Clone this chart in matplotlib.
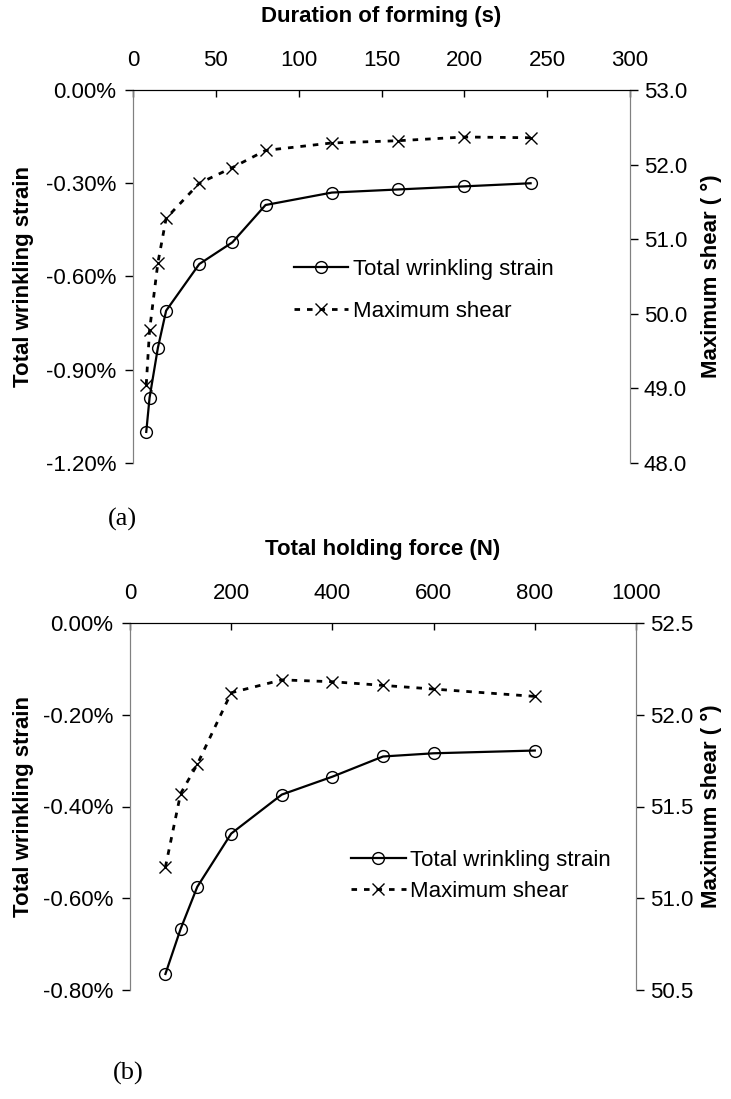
import matplotlib
matplotlib.use("Agg")
from matplotlib import pyplot as plt
from matplotlib.ticker import FuncFormatter

# panel (a): duration of forming
dur_s = [8, 10, 15, 20, 40, 60, 80, 120, 160, 200, 240]
strain_a = [-1.10, -0.99, -0.83, -0.71, -0.56, -0.49, -0.37, -0.33, -0.32, -0.31, -0.30]
shear_a = [49.05, 49.78, 50.68, 51.28, 51.75, 51.96, 52.19, 52.29, 52.32, 52.37, 52.36]

# panel (b): total holding force
force_n = [70, 100, 133, 200, 300, 400, 500, 600, 800]
strain_b = [-0.765, -0.667, -0.575, -0.459, -0.374, -0.335, -0.291, -0.284, -0.278]
shear_b = [51.17, 51.57, 51.73, 52.12, 52.19, 52.18, 52.16, 52.14, 52.10]

plt.rcParams['font.family'] = ['Liberation Sans', 'DejaVu Sans']

fig = plt.figure(figsize=(7.31, 10.99), dpi=100)


def panel(rect, x, strain, shear, xlabel, xlim, xticks, ylim, yticks, y2lim, y2ticks,
          leg_xy, leg_space, tag, tag_xy):
    ax = fig.add_axes(rect)
    ax2 = ax.twinx()
    l1, = ax.plot(x, strain, color='k', lw=1.6, marker='o', ms=8.5, mfc='none',
                  mec='k', mew=1.0, label='Total wrinkling strain')
    l2, = ax2.plot(x, shear, color='k', lw=2.0, ls=(0, (2, 2.5)), marker='x',
                   ms=8, mew=1.0, label='Maximum shear')

    ax.set_xlim(*xlim)
    ax.set_xticks(xticks)
    ax.set_ylim(*ylim)
    ax.set_yticks(yticks)
    ax.yaxis.set_major_formatter(FuncFormatter(lambda v, p: '%.2f%%' % v))
    ax2.set_ylim(*y2lim)
    ax2.set_yticks(y2ticks)
    ax2.yaxis.set_major_formatter(FuncFormatter(lambda v, p: '%.1f' % v))

    ax.xaxis.tick_top()
    for a in (ax, ax2):
        a.spines['bottom'].set_visible(False)
        a.spines['top'].set_color('k')
        a.spines['left'].set_color('#808080')
        a.spines['right'].set_color('#808080')
        a.patch.set_visible(False)
    ax.tick_params(axis='x', which='both', direction='in', length=5, width=1,
                   pad=14, labelsize=16, top=True, bottom=False)
    ax.tick_params(axis='y', direction='out', length=6, width=1, pad=6, labelsize=16)
    ax2.tick_params(axis='y', direction='out', length=6, width=1, pad=4, labelsize=16)

    ax.set_xlabel(xlabel, fontsize=16, fontweight='bold', va='center')
    ax.xaxis.set_label_position('top')
    ax.xaxis.set_label_coords(0.5, 1.0 + 68.0 / (rect[3] * 1099))
    ax.set_ylabel('Total wrinkling strain', fontsize=16, fontweight='bold', va='center')
    ax.yaxis.set_label_coords((24.0 / 731 - rect[0]) / rect[2], 0.5)
    ax2.set_ylabel('Maximum shear ( °)', fontsize=16, fontweight='bold',
                   va='center', rotation=90)
    ax2.yaxis.set_label_coords((711.0 / 731 - rect[0]) / rect[2], 0.5)

    ax2.legend([l1, l2], [l1.get_label(), l2.get_label()], loc='upper left',
               bbox_to_anchor=leg_xy, frameon=False, fontsize=16,
               handlelength=2.45, handletextpad=0.22, labelspacing=leg_space,
               borderaxespad=0, borderpad=0)

    fig.text(tag_xy[0] / 731, 1 - tag_xy[1] / 1099, tag, family='Liberation Serif',
             fontsize=19, ha='center', va='center')
    return ax, ax2


panel([133 / 731, 1 - 463 / 1099, 497 / 731, 373 / 1099], dur_s, strain_a, shear_a,
      'Duration of forming (s)', (0, 300), [0, 50, 100, 150, 200, 250, 300],
      (-1.2, 0), [-1.2, -0.9, -0.6, -0.3, 0.0], (48, 53), [48, 49, 50, 51, 52, 53],
      (0.323, 0.548), 0.95, '(a)', (122, 519))

panel([130 / 731, 1 - 990 / 1099, 506 / 731, 367 / 1099], force_n, strain_b, shear_b,
      'Total holding force (N)', (0, 1000), [0, 200, 400, 600, 800, 1000],
      (-0.8, 0), [-0.8, -0.6, -0.4, -0.2, 0.0], (50.5, 52.5), [50.5, 51.0, 51.5, 52.0, 52.5],
      (0.437, 0.382), 0.45, '(b)', (128, 1073))

fig.savefig('out.png', dpi=100)
